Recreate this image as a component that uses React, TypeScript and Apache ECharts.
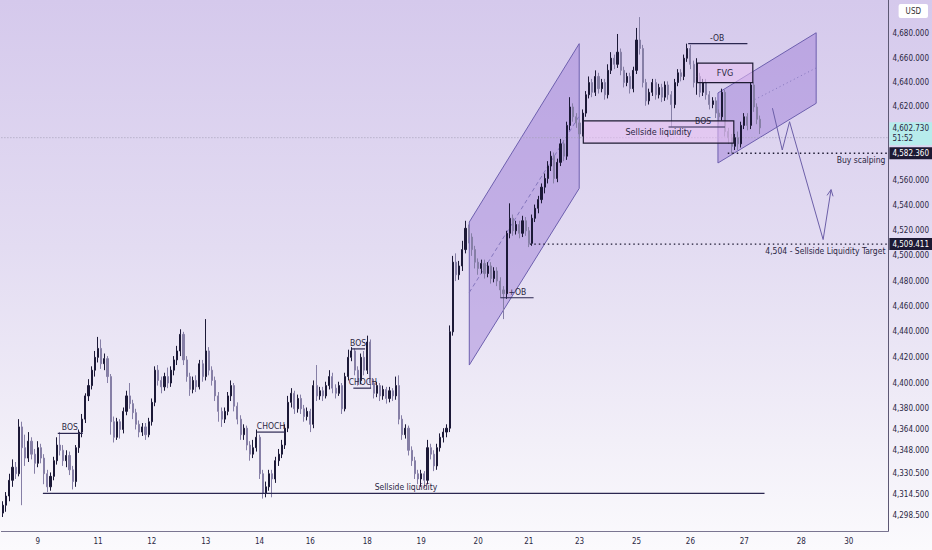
import React, { useEffect, useRef } from "react";
import * as echarts from "echarts";

const FONT = '"Liberation Sans Narrow", "DejaVu Sans Condensed", "Liberation Sans", sans-serif';
const INK = "#2a2642";

// candles: [open, close, low, high]
const candles: number[][] = [
  [4300, 4306, 4297, 4309], [4306, 4313, 4301, 4316], [4313, 4325, 4309, 4330], [4325, 4335, 4320, 4341],
  [4335, 4330, 4326, 4339], [4330, 4366, 4328, 4372], [4366, 4350, 4306, 4370], [4350, 4342, 4336, 4360],
  [4342, 4355, 4339, 4362], [4355, 4345, 4341, 4358], [4345, 4338, 4330, 4349], [4338, 4350, 4335, 4355],
  [4350, 4342, 4338, 4353], [4342, 4330, 4322, 4345], [4330, 4320, 4316, 4333], [4320, 4328, 4317, 4331],
  [4328, 4340, 4325, 4343], [4340, 4352, 4337, 4358], [4352, 4348, 4344, 4362], [4348, 4340, 4336, 4352],
  [4340, 4344, 4335, 4348], [4344, 4333, 4329, 4347], [4333, 4324, 4318, 4336], [4324, 4350, 4320, 4352],
  [4350, 4362, 4346, 4364], [4362, 4372, 4358, 4376], [4372, 4390, 4369, 4392], [4390, 4398, 4386, 4403],
  [4398, 4410, 4395, 4413], [4410, 4420, 4405, 4425], [4420, 4427, 4416, 4436], [4427, 4415, 4411, 4434],
  [4415, 4419, 4410, 4423], [4419, 4405, 4400, 4421], [4405, 4370, 4360, 4407], [4370, 4358, 4354, 4374],
  [4358, 4370, 4356, 4373], [4370, 4364, 4357, 4372], [4364, 4378, 4361, 4381], [4378, 4390, 4375, 4394],
  [4390, 4384, 4380, 4400], [4384, 4377, 4372, 4387], [4377, 4368, 4364, 4380], [4368, 4362, 4358, 4371],
  [4362, 4366, 4359, 4369], [4366, 4360, 4356, 4369], [4360, 4370, 4358, 4373], [4370, 4385, 4367, 4388],
  [4385, 4410, 4382, 4413], [4410, 4402, 4398, 4414], [4402, 4397, 4392, 4405], [4397, 4405, 4394, 4408],
  [4405, 4400, 4396, 4412], [4400, 4410, 4397, 4413], [4410, 4418, 4406, 4421], [4418, 4425, 4414, 4429],
  [4425, 4438, 4421, 4442], [4438, 4418, 4414, 4440], [4418, 4405, 4401, 4421], [4405, 4395, 4390, 4408],
  [4395, 4402, 4392, 4405], [4402, 4397, 4393, 4406], [4397, 4415, 4395, 4418], [4415, 4405, 4401, 4418],
  [4405, 4425, 4402, 4450], [4425, 4410, 4406, 4428], [4410, 4402, 4398, 4413], [4402, 4390, 4386, 4405],
  [4390, 4378, 4370, 4393], [4378, 4372, 4366, 4381], [4372, 4378, 4369, 4381], [4378, 4390, 4375, 4393],
  [4390, 4398, 4386, 4402], [4398, 4382, 4378, 4400], [4382, 4372, 4368, 4385], [4372, 4360, 4356, 4375],
  [4360, 4365, 4356, 4368], [4365, 4352, 4348, 4367], [4352, 4345, 4340, 4355], [4345, 4350, 4342, 4356],
  [4350, 4358, 4347, 4364], [4358, 4330, 4326, 4360], [4330, 4315, 4311, 4333], [4315, 4320, 4312, 4324],
  [4320, 4330, 4317, 4333], [4330, 4326, 4312, 4333], [4326, 4340, 4323, 4343], [4340, 4345, 4336, 4349],
  [4345, 4352, 4342, 4356], [4352, 4365, 4349, 4368], [4365, 4385, 4362, 4390], [4385, 4392, 4381, 4396],
  [4392, 4380, 4376, 4394], [4380, 4388, 4377, 4391], [4388, 4380, 4376, 4391], [4380, 4374, 4370, 4383],
  [4374, 4378, 4371, 4381], [4378, 4368, 4362, 4380], [4368, 4398, 4365, 4402], [4398, 4390, 4386, 4414],
  [4390, 4394, 4387, 4397], [4394, 4390, 4386, 4397], [4390, 4398, 4388, 4401], [4398, 4405, 4395, 4410],
  [4405, 4396, 4392, 4408], [4396, 4392, 4388, 4399], [4392, 4398, 4390, 4401], [4398, 4380, 4376, 4400],
  [4380, 4405, 4378, 4408], [4405, 4420, 4402, 4426], [4420, 4425, 4417, 4428], [4425, 4410, 4406, 4427],
  [4410, 4402, 4398, 4413], [4402, 4420, 4399, 4423], [4420, 4410, 4406, 4425], [4410, 4432, 4407, 4437],
  [4432, 4400, 4396, 4434], [4400, 4392, 4388, 4403], [4392, 4398, 4389, 4401], [4398, 4390, 4386, 4400],
  [4390, 4395, 4387, 4398], [4395, 4388, 4384, 4397], [4388, 4394, 4385, 4397], [4394, 4390, 4386, 4396],
  [4390, 4398, 4387, 4405], [4398, 4372, 4368, 4406], [4372, 4360, 4356, 4375], [4360, 4365, 4357, 4368],
  [4365, 4348, 4344, 4367], [4348, 4340, 4336, 4351], [4340, 4330, 4326, 4343], [4330, 4326, 4322, 4333],
  [4326, 4330, 4320, 4333], [4330, 4325, 4319, 4332], [4325, 4350, 4322, 4356], [4350, 4345, 4341, 4353],
  [4345, 4336, 4332, 4348], [4336, 4350, 4333, 4353], [4350, 4358, 4347, 4361], [4358, 4362, 4354, 4365],
  [4362, 4365, 4358, 4368], [4365, 4440, 4362, 4445], [4440, 4495, 4437, 4500], [4495, 4485, 4480, 4502],
  [4485, 4492, 4481, 4496], [4492, 4505, 4488, 4512], [4505, 4522, 4502, 4528], [4522, 4515, 4510, 4525],
  [4515, 4505, 4500, 4518], [4505, 4495, 4490, 4508], [4495, 4490, 4485, 4498], [4490, 4494, 4486, 4497],
  [4494, 4486, 4482, 4497], [4486, 4492, 4483, 4495], [4492, 4482, 4478, 4495], [4482, 4488, 4479, 4491],
  [4488, 4480, 4476, 4491], [4480, 4473, 4467, 4483], [4473, 4470, 4450, 4476], [4470, 4518, 4466, 4520],
  [4518, 4530, 4514, 4542], [4530, 4520, 4516, 4533], [4520, 4525, 4517, 4528], [4525, 4518, 4514, 4528],
  [4518, 4528, 4515, 4532], [4528, 4520, 4516, 4531], [4520, 4510, 4507, 4523], [4510, 4530, 4508, 4533],
  [4530, 4538, 4527, 4541], [4538, 4545, 4534, 4548], [4545, 4555, 4542, 4558], [4555, 4562, 4550, 4566],
  [4562, 4572, 4558, 4576], [4572, 4580, 4568, 4584], [4580, 4562, 4558, 4583], [4562, 4575, 4559, 4578],
  [4575, 4590, 4572, 4594], [4590, 4580, 4576, 4593], [4580, 4605, 4577, 4608], [4605, 4620, 4601, 4628],
  [4620, 4612, 4608, 4623], [4612, 4607, 4603, 4615], [4607, 4598, 4594, 4610], [4598, 4615, 4596, 4618],
  [4615, 4630, 4612, 4633], [4630, 4640, 4627, 4645], [4640, 4632, 4628, 4643], [4632, 4645, 4629, 4650],
  [4645, 4635, 4631, 4648], [4635, 4640, 4632, 4643], [4640, 4630, 4626, 4643], [4630, 4650, 4627, 4655],
  [4650, 4660, 4647, 4665], [4660, 4655, 4651, 4663], [4655, 4665, 4652, 4680], [4665, 4650, 4646, 4668],
  [4650, 4640, 4636, 4653], [4640, 4645, 4637, 4648], [4645, 4635, 4631, 4648], [4635, 4650, 4632, 4653],
  [4650, 4675, 4647, 4685], [4675, 4668, 4663, 4694], [4668, 4640, 4636, 4671], [4640, 4625, 4621, 4643],
  [4625, 4632, 4622, 4635], [4632, 4640, 4629, 4643], [4640, 4630, 4626, 4643], [4630, 4636, 4627, 4639],
  [4636, 4628, 4624, 4639], [4628, 4638, 4625, 4641], [4638, 4630, 4626, 4641], [4630, 4622, 4604, 4633],
  [4622, 4640, 4619, 4643], [4640, 4648, 4637, 4651], [4648, 4645, 4641, 4651], [4645, 4660, 4642, 4663],
  [4660, 4668, 4657, 4672], [4668, 4655, 4651, 4671], [4655, 4640, 4636, 4658], [4640, 4645, 4630, 4660],
  [4645, 4632, 4628, 4648], [4632, 4640, 4629, 4643], [4640, 4630, 4626, 4643], [4630, 4622, 4618, 4633],
  [4622, 4625, 4619, 4628], [4625, 4615, 4611, 4628], [4615, 4612, 4606, 4618], [4612, 4632, 4609, 4635],
  [4632, 4600, 4596, 4634], [4600, 4595, 4590, 4603], [4595, 4588, 4582, 4598], [4588, 4595, 4585, 4598],
  [4595, 4590, 4585, 4600], [4590, 4605, 4587, 4608], [4605, 4612, 4602, 4615], [4612, 4605, 4601, 4615],
  [4605, 4638, 4602, 4640], [4638, 4620, 4616, 4640], [4620, 4610, 4606, 4623], [4610, 4603, 4598, 4613],
];

const TOTAL_SLOTS = 280;
const categories = Array.from({ length: TOTAL_SLOTS }, (_, i) => String(i));

// day labels: [candle slot, label]
const dayTicks: [number, string][] = [
  [11, "9"], [30, "11"], [47, "12"], [64, "13"], [81, "14"], [97, "16"], [115, "18"], [132, "19"],
  [150, "20"], [166, "21"], [182, "23"], [200, "25"], [217, "26"], [234, "27"], [252, "28"], [267, "30"],
];

const priceTicks = [
  4298.5, 4314.5, 4330.5, 4348, 4364, 4380, 4400, 4420, 4440, 4460, 4480, 4500, 4520, 4540, 4560,
  4620, 4640, 4660, 4680,
];
const PRICE_MIN = 4286.4;
const PRICE_MAX = 4708.2;

// rising channels: corners [slot, price] and mid line
const channels = [
  { pts: [[147.2, 4527], [181.9, 4672], [181.9, 4554], [147.2, 4414]], mid: [[147.2, 4471], [181.9, 4612.6]], dash: [4, 3] },
  { pts: [[225.7, 4631.5], [256.7, 4681], [256.7, 4623], [225.7, 4574.5]], mid: [[237.3, 4626], [256.7, 4652]], dash: [1, 3] },
];

// zones: slot range, price range
const zones = [
  { name: "Sellside liquidity", x: [183.2, 230.7], y: [4608.6, 4590.6] },
  { name: "FVG", x: [219.2, 236.7], y: [4656, 4640] },
];

// structure levels
const levels = [
  { label: "BOS", x: [17.3, 25.2], price: 4361, at: 21.1 },
  { label: "CHOCH", x: [80.2, 89], price: 4362, at: 84.6 },
  { label: "BOS", x: [110, 114.3], price: 4426.6, at: 112.1 },
  { label: "CHOCH", x: [110.6, 116.2], price: 4396, at: 113.6 },
  { label: "Sellside liquidity", x: [12.6, 240.4], price: 4315, at: 127.2 },
  { label: "+OB", x: [157, 167.5], price: 4466.8, at: 162.4 },
  { label: "BOS", x: [210.1, 227.9], price: 4603.7, at: 221 },
  { label: "-OB", x: [216.3, 235], price: 4672, at: 225.4 },
];

// dotted targets to the price scale
const targets = [
  { price: 4582.36, from: 228.8, text: "Buy scalping", tag: "4,582.360" },
  { price: 4509.411, from: 166.3, text: "4,504 - Sellside Liquidity Target", tag: "4,509.411" },
];

const lastPrice = 4602.73;
const countdown = "51:52";
const priceLine = 4595;

const projection = [[242.9, 4619], [246, 4585], [248.3, 4608], [258.9, 4513], [261.4, 4553]];

const fmt = (v: number) =>
  v.toLocaleString("en-US", { minimumFractionDigits: 3, maximumFractionDigits: 3 });

export default function App() {
  const ref = useRef<HTMLDivElement>(null);

  useEffect(() => {
    if (!ref.current) return;
    const chart = echarts.init(ref.current, undefined, { renderer: "svg" });
    const dayMap: Record<number, string> = {};
    dayTicks.forEach(([i, l]) => (dayMap[i] = l));
    const RIGHT = TOTAL_SLOTS - 0.5;

    const txt = (x: number, y: number, text: string, extra: any = {}) => ({
      type: "text",
      x,
      y,
      style: {
        text,
        fill: INK,
        fontSize: 8.5,
        fontFamily: FONT,
        align: "center",
        verticalAlign: "bottom",
        ...extra,
      },
    });

    const option: any = {
      animation: false,
      title: {
        text: "USD",
        right: 4,
        top: 4,
        backgroundColor: "#ffffff",
        padding: [3, 7],
        borderRadius: 2,
        textStyle: { fontSize: 8, color: "#333", fontWeight: "normal", fontFamily: FONT },
      },
      grid: { left: 0, right: 37, top: 0, bottom: 19, containLabel: false },
      xAxis: [
        {
          type: "category",
          data: categories,
          boundaryGap: true,
          axisLine: { onZero: false, lineStyle: { color: "#7a7591", width: 1 } },
          axisTick: { show: false },
          axisLabel: {
            interval: 0,
            color: INK,
            fontSize: 8,
            fontFamily: FONT,
            margin: 6,
            formatter: (_v: string, idx: number) => dayMap[idx] ?? "",
          },
          splitLine: { show: false },
        },
        { type: "value", min: -0.5, max: RIGHT, show: false, axisLine: { onZero: false } },
      ],
      yAxis: {
        type: "log",
        logBase: 10,
        min: PRICE_MIN,
        max: PRICE_MAX,
        position: "right",
        axisLine: { show: true, onZero: false, lineStyle: { color: "#5d5874" } },
        axisTick: { show: false },
        splitLine: { show: false },
        axisLabel: {
          customValues: priceTicks,
          color: INK,
          fontSize: 8,
          fontFamily: FONT,
          margin: 4,
          formatter: (v: number) => fmt(v),
        },
      },
      series: [
        {
          type: "custom",
          xAxisIndex: 1,
          z: 1,
          silent: true,
          data: channels.map((c) => c.pts[0]),
          renderItem: (params: any, api: any) => {
            const c = channels[params.dataIndex];
            const pts = c.pts.map((p) => api.coord(p));
            const m = c.mid.map((p) => api.coord(p));
            return {
              type: "group",
              children: [
                { type: "polygon", shape: { points: pts }, style: { fill: "rgba(150,115,212,0.42)", stroke: "#6d5fae", lineWidth: 1 } },
                { type: "line", shape: { x1: m[0][0], y1: m[0][1], x2: m[1][0], y2: m[1][1] }, style: { stroke: "#8476bd", lineWidth: 1, lineDash: c.dash } },
              ],
            };
          },
        },
        {
          type: "custom",
          xAxisIndex: 1,
          z: 1,
          silent: true,
          data: [[0, priceLine]],
          renderItem: (_p: any, api: any) => {
            const a = api.coord([-0.5, priceLine]);
            const b = api.coord([RIGHT, priceLine]);
            return { type: "line", shape: { x1: a[0], y1: a[1], x2: b[0], y2: b[1] }, style: { stroke: "#a39eb6", lineWidth: 1, lineDash: [1, 2] } };
          },
        },
        {
          type: "candlestick",
          xAxisIndex: 0,
          z: 2,
          barWidth: 1.6,
          data: candles,
          itemStyle: {
            color: "#1c1937",
            borderColor: "#1c1937",
            color0: "#867fa6",
            borderColor0: "#867fa6",
            borderWidth: 1,
          },
        },
        {
          type: "custom",
          xAxisIndex: 1,
          z: 3,
          silent: true,
          data: zones.map((z) => [z.x[0], z.y[0]]),
          renderItem: (params: any, api: any) => {
            const z = zones[params.dataIndex];
            const a = api.coord([z.x[0], z.y[0]]);
            const b = api.coord([z.x[1], z.y[1]]);
            return {
              type: "group",
              children: [
                { type: "rect", shape: { x: a[0], y: a[1], width: b[0] - a[0], height: b[1] - a[1] }, style: { fill: "rgba(232,192,243,0.55)", stroke: "#1e1b33", lineWidth: 1.2 } },
                txt((a[0] + b[0]) / 2, (a[1] + b[1]) / 2, z.name, { verticalAlign: "middle", fontSize: 9 }),
              ],
            };
          },
        },
        {
          type: "custom",
          xAxisIndex: 1,
          z: 4,
          silent: true,
          data: levels.map((l) => [l.x[0], l.price]),
          renderItem: (params: any, api: any) => {
            const l = levels[params.dataIndex];
            const a = api.coord([l.x[0], l.price]);
            const b = api.coord([l.x[1], l.price]);
            const c = api.coord([l.at, l.price]);
            return {
              type: "group",
              children: [
                { type: "line", shape: { x1: a[0], y1: a[1], x2: b[0], y2: b[1] }, style: { stroke: "#2b2750", lineWidth: 1.2 } },
                txt(c[0], c[1] - 1.5, l.label),
              ],
            };
          },
        },
        {
          type: "custom",
          xAxisIndex: 1,
          z: 4,
          silent: true,
          data: targets.map((t) => [t.from, t.price]),
          renderItem: (params: any, api: any) => {
            const t = targets[params.dataIndex];
            const a = api.coord([t.from, t.price]);
            const b = api.coord([RIGHT, t.price]);
            return {
              type: "group",
              children: [
                { type: "line", shape: { x1: a[0], y1: a[1], x2: b[0], y2: b[1] }, style: { stroke: "#1d1a33", lineWidth: 1.3, lineDash: [1.5, 3] } },
                txt(b[0] - 3, b[1] + 2, t.text, { align: "right", verticalAlign: "top" }),
                {
                  type: "text",
                  x: b[0] + 1,
                  y: b[1],
                  style: {
                    text: t.tag,
                    fill: "#ffffff",
                    fontSize: 8,
                    fontFamily: FONT,
                    align: "left",
                    verticalAlign: "middle",
                    backgroundColor: "#1d1a33",
                    padding: [2, 4, 2, 3],
                  },
                },
              ],
            };
          },
        },
        {
          type: "custom",
          xAxisIndex: 1,
          z: 5,
          silent: true,
          data: [[RIGHT, lastPrice]],
          renderItem: (_p: any, api: any) => {
            const b = api.coord([RIGHT, lastPrice]);
            return {
              type: "text",
              x: b[0] + 1,
              y: b[1] - 6,
              style: {
                text: fmt(lastPrice) + "\n" + countdown,
                fill: "#2a2642",
                fontSize: 8,
                lineHeight: 10,
                fontFamily: FONT,
                align: "left",
                verticalAlign: "top",
                backgroundColor: "#b7ecec",
                padding: [1, 6, 2, 3],
              },
            };
          },
        },
        {
          type: "custom",
          xAxisIndex: 1,
          z: 4,
          silent: true,
          data: [projection[0]],
          renderItem: (_p: any, api: any) => {
            const pts = projection.map((p) => api.coord(p));
            const n = pts.length;
            const tip = pts[n - 1];
            const prev = pts[n - 2];
            const ang = Math.atan2(tip[1] - prev[1], tip[0] - prev[0]);
            const len = 7;
            const h1 = [tip[0] - len * Math.cos(ang - 0.45), tip[1] - len * Math.sin(ang - 0.45)];
            const h2 = [tip[0] - len * Math.cos(ang + 0.45), tip[1] - len * Math.sin(ang + 0.45)];
            return {
              type: "group",
              children: [
                { type: "polyline", shape: { points: pts }, style: { stroke: "#6c5fa8", lineWidth: 1, fill: "none" } },
                { type: "polyline", shape: { points: [h1, tip, h2] }, style: { stroke: "#6c5fa8", lineWidth: 1, fill: "none" } },
              ],
            };
          },
        },
      ],
    };

    chart.setOption(option);
    return () => chart.dispose();
  }, []);

  return (
    <div
      style={{
        position: "fixed",
        left: 0,
        top: 0,
        width: 932,
        height: 550,
        background: "linear-gradient(180deg, #d5c9ec 0%, #e3dcf2 45%, #f2eff8 80%, #fbfafd 100%)",
      }}
    >
      <div ref={ref} style={{ width: 932, height: 550 }} />
    </div>
  );
}
